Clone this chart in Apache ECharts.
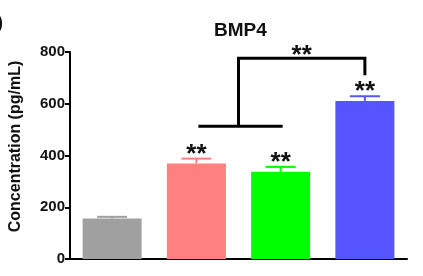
<!DOCTYPE html>
<html><head><meta charset="utf-8">
<script src="https://cdn.jsdelivr.net/npm/echarts@6/dist/echarts.min.js"></script>
<style>html,body{margin:0;padding:0;background:#fff}#c{width:423px;height:276px}</style>
</head><body><div id="c"></div>
<script>
// ---- data ----
const categories = ['Control', 'Group A', 'Group B', 'Group C'];
const means = [157, 369, 337, 611];
const errors = [6, 19, 19, 18];
const stars = ['', '**', '**', '**'];
const yMin = 0, yMax = 800, yStep = 200;
const bracketBase = 513;   // lower bar of the bracket (between Group A and Group B)
const bracketTop = 776;    // upper bar of the bracket
const bracketEnd = 710;    // end of drop line over Group C
const bracketStars = '**';
const titleText = 'BMP4';
const yName = 'Concentration (pg/mL)';

// ---- styles ----
const barColors = ['#a0a0a0', '#ff8080', '#00ff00', '#5555ff'];
const font = '"Liberation Sans", Arial, sans-serif';

function errRender(params, api) {
  const i = api.value(0);
  const p0 = api.coord([i, api.value(1)]);
  const p1 = api.coord([i, api.value(2)]);
  const half = 15;
  const color = barColors[i];
  return {
    type: 'group',
    children: [
      { type: 'line', shape: { x1: p0[0], y1: p0[1], x2: p1[0], y2: p1[1] }, style: { stroke: color, lineWidth: 2 } },
      { type: 'line', shape: { x1: p1[0] - half, y1: p1[1], x2: p1[0] + half, y2: p1[1] }, style: { stroke: color, lineWidth: 2 } },
      { type: 'text', x: p1[0], y: p1[1] - 4, style: { text: stars[i], fontSize: 26, fontWeight: 'bold', fontFamily: font, fill: '#111', align: 'center', verticalAlign: 'middle' } }
    ]
  };
}

function bracketRender(params, api) {
  const a = api.coord([1, api.value(0)]);
  const b = api.coord([2, api.value(0)]);
  const midX = (a[0] + b[0]) / 2;
  const top = api.coord([3, api.value(1)]);
  const end = api.coord([3, api.value(2)]);
  const st = { stroke: '#000', lineWidth: 3, fill: null };
  return {
    type: 'group',
    children: [
      { type: 'line', shape: { x1: a[0] + 2, y1: a[1], x2: b[0] + 2, y2: b[1] }, style: st },
      { type: 'polyline', shape: { points: [[midX, a[1]], [midX, top[1]], [top[0], top[1]], [end[0], end[1]]] }, style: st },
      { type: 'text', x: (midX + top[0]) / 2, y: top[1] - 2, style: { text: bracketStars, fontSize: 26, fontWeight: 'bold', fontFamily: font, fill: '#111', align: 'center', verticalAlign: 'middle' } }
    ]
  };
}

const chart = echarts.init(document.getElementById('c'), null, { renderer: 'canvas' });
chart.setOption({
  animation: false,
  backgroundColor: '#fff',
  title: { text: titleText, left: 209, top: 16, textStyle: { fontFamily: font, fontWeight: 'bold', fontSize: 19, color: '#111' } },
  graphic: [{ type: 'text', left: -3, top: 14, style: { text: ')', fontSize: 18, fontWeight: 'bold', fontFamily: font, fill: '#111' } }],
  grid: { left: 70, right: 16, top: 52, bottom: 17 },
  xAxis: [
    { type: 'category', data: categories, axisLine: { lineStyle: { color: '#000', width: 2 } }, axisTick: { show: false }, axisLabel: { show: false } },
    { type: 'category', data: [''], position: 'bottom', axisLine: { show: false }, axisTick: { alignWithLabel: true, length: 6, lineStyle: { color: '#000', width: 2 } }, axisLabel: { show: false } }
  ],
  yAxis: {
    type: 'value', min: yMin, max: yMax, interval: yStep,
    name: yName, nameLocation: 'middle', nameGap: 46,
    nameTextStyle: { fontFamily: font, fontWeight: 'bold', fontSize: 16, color: '#111', padding: [0, 0, 0, 18] },
    axisLine: { show: true, lineStyle: { color: '#000', width: 2 } },
    axisTick: { show: true, length: 5, lineStyle: { color: '#000', width: 2 } },
    axisLabel: { fontFamily: font, fontWeight: 'bold', fontSize: 15, color: '#111', margin: 5 },
    splitLine: { show: false }
  },
  series: [
    { type: 'bar', barWidth: 59, data: means.map((v, i) => ({ value: v, itemStyle: { color: barColors[i] } })) },
    { type: 'custom', renderItem: errRender, data: means.map((v, i) => [i, v, v + errors[i]]), z: 3 },
    { type: 'custom', renderItem: bracketRender, data: [[bracketBase, bracketTop, bracketEnd]], z: 4, clip: false }
  ]
});
</script></body></html>
